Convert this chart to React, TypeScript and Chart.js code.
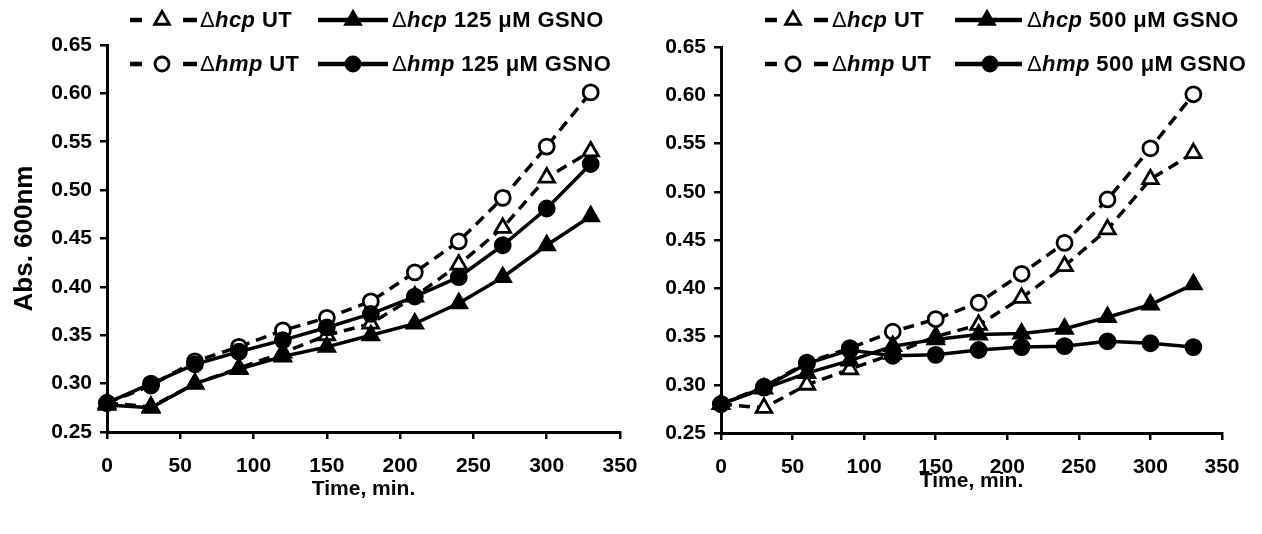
import React, { useEffect, useRef } from 'react';
import { Chart, registerables } from 'chart.js';

Chart.register(...registerables);

// ---------- data ----------
const times = [0, 30, 60, 90, 120, 150, 180, 210, 240, 270, 300, 330];
const hcpUT = [0.280, 0.276, 0.300, 0.316, 0.332, 0.350, 0.362, 0.390, 0.423, 0.461, 0.513, 0.540];
const hmpUT = [0.280, 0.298, 0.323, 0.338, 0.355, 0.368, 0.385, 0.415, 0.447, 0.492, 0.545, 0.601];
const hcp125 = [0.278, 0.275, 0.300, 0.315, 0.328, 0.338, 0.350, 0.362, 0.383, 0.410, 0.443, 0.473];
const hmp125 = [0.280, 0.300, 0.320, 0.333, 0.345, 0.358, 0.372, 0.390, 0.410, 0.443, 0.481, 0.527];
const hcp500 = [0.280, 0.296, 0.312, 0.325, 0.340, 0.347, 0.352, 0.353, 0.358, 0.370, 0.383, 0.404];
const hmp500 = [0.280, 0.297, 0.322, 0.336, 0.330, 0.331, 0.336, 0.339, 0.340, 0.345, 0.343, 0.339];

const xTickValues = [0, 50, 100, 150, 200, 250, 300, 350];
const yTickValues = [0.25, 0.3, 0.35, 0.4, 0.45, 0.5, 0.55, 0.6, 0.65];

const xTitle = 'Time, min.';
const yTitle = 'Abs. 600nm';

const FONT = "'Liberation Sans', Arial, Helvetica, sans-serif";

type Kind = 'tri-open' | 'tri-fill' | 'circ-open' | 'circ-fill';

function ds(label: string, values: number[], kind: Kind) {
  const isTri = kind.startsWith('tri');
  const open = kind.endsWith('open');
  return {
    label,
    data: times.map((t, i) => ({ x: t, y: values[i] })),
    borderColor: '#000',
    borderWidth: 3.5,
    borderDash: open ? [11, 7] : [],
    pointStyle: isTri ? 'triangle' : 'circle',
    pointRadius: isTri ? 9 : 7.5,
    pointBorderWidth: 2.8,
    pointBackgroundColor: open ? '#fff' : '#000',
    pointBorderColor: '#000',
    fill: false,
    tension: 0,
    clip: false as any,
  };
}

function makeConfig(p: {
  datasets: any[];
  yWidth: number;
  xHeight: number;
  padTop: number;
  padRight: number;
  xTitlePad: number;
  showYTitle: boolean;
}) {
  const tickFont = { family: FONT, size: 21, weight: 'bold' as const };
  const gridCommon = {
    display: true,
    drawOnChartArea: false,
    drawTicks: true,
    tickLength: 7,
    tickWidth: 2.5,
    tickColor: '#000',
    color: '#000',
    lineWidth: 2.5,
  };
  return {
    type: 'line' as const,
    data: { datasets: p.datasets },
    options: {
      animation: false as const,
      responsive: false,
      layout: { padding: { top: p.padTop, right: p.padRight, left: 0, bottom: 0 } },
      plugins: { legend: { display: false }, tooltip: { enabled: false } },
      events: [],
      scales: {
        x: {
          type: 'linear' as const,
          min: 0,
          max: 350,
          afterBuildTicks: (s: any) => {
            s.ticks = xTickValues.map((v) => ({ value: v }));
          },
          afterFit: (s: any) => {
            s.height = p.xHeight;
          },
          ticks: { color: '#000', font: tickFont, padding: 15, maxRotation: 0, autoSkip: false },
          grid: gridCommon,
          border: { display: true, color: '#000', width: 3 },
          title: {
            display: true,
            text: xTitle,
            color: '#000',
            font: { family: FONT, size: 21, weight: 'bold' as const },
            padding: { top: 0, bottom: p.xTitlePad },
          },
        },
        y: {
          type: 'linear' as const,
          min: 0.25,
          max: 0.65,
          afterBuildTicks: (s: any) => {
            s.ticks = yTickValues.map((v) => ({ value: v }));
          },
          afterFit: (s: any) => {
            s.width = p.yWidth;
          },
          ticks: {
            color: '#000',
            font: tickFont,
            padding: 8,
            autoSkip: false,
            callback: (v: any) => Number(v).toFixed(2),
          },
          grid: gridCommon,
          border: { display: true, color: '#000', width: 3 },
          title: {
            display: p.showYTitle,
            text: yTitle,
            color: '#000',
            font: { family: FONT, size: 26, weight: 'bold' as const },
            padding: { top: 9, bottom: 0 },
          },
        },
      },
    },
  };
}

function ChartCanvas({ config, left, width }: { config: any; left: number; width: number }) {
  const ref = useRef<HTMLCanvasElement | null>(null);
  useEffect(() => {
    if (!ref.current) return;
    const c = new Chart(ref.current, config);
    return () => c.destroy();
  }, [config]);
  return (
    <canvas
      ref={ref}
      width={width}
      height={534}
      style={{ position: 'absolute', left, top: 0, width, height: 534, display: 'block' }}
    />
  );
}

function Marker({ kind, cx, cy }: { kind: Kind; cx: number; cy: number }) {
  const fill = kind.endsWith('open') ? '#fff' : '#000';
  if (kind.startsWith('tri')) {
    const r = 8.5;
    const pts = [
      [cx, cy - r],
      [cx + r * 0.866, cy + r * 0.5],
      [cx - r * 0.866, cy + r * 0.5],
    ]
      .map((q) => q.join(','))
      .join(' ');
    return <polygon points={pts} fill={fill} stroke="#000" strokeWidth={2.8} strokeLinejoin="miter" />;
  }
  return <circle cx={cx} cy={cy} r={7} fill={fill} stroke="#000" strokeWidth={2.8} />;
}

function LegendItem({
  x,
  y,
  sampleW,
  markerAt,
  kind,
  name,
  rest,
  gap,
}: {
  x: number;
  y: number;
  sampleW: number;
  markerAt: number;
  kind: Kind;
  name: string;
  rest: string;
  gap: number;
}) {
  const dashed = kind.endsWith('open');
  return (
    <div
      style={{
        position: 'absolute',
        left: x,
        top: y - 14,
        height: 28,
        display: 'flex',
        alignItems: 'center',
        whiteSpace: 'nowrap',
        fontFamily: FONT,
        fontSize: 22,
        letterSpacing: '0.4px',
        fontWeight: 'bold',
        color: '#000',
      }}
    >
      <svg width={sampleW} height={28} style={{ display: 'block', flex: 'none' }}>
        {dashed ? (
          <>
            <line x1={0} y1={14} x2={12} y2={14} stroke="#000" strokeWidth={4.5} />
            <line x1={sampleW - 14} y1={14} x2={sampleW} y2={14} stroke="#000" strokeWidth={4.5} />
          </>
        ) : (
          <line x1={0} y1={14} x2={sampleW} y2={14} stroke="#000" strokeWidth={4.5} />
        )}
        <Marker kind={kind} cx={markerAt} cy={14} />
      </svg>
      <span style={{ marginLeft: gap }}>
        <span style={{ fontWeight: 'normal' }}>Δ</span>
        <i>{name}</i>
        {rest}
      </span>
    </div>
  );
}

const leftConfig = makeConfig({
  datasets: [
    ds('Δhmp 125 μM GSNO', hmp125, 'circ-fill'),
    ds('Δhcp 125 μM GSNO', hcp125, 'tri-fill'),
    ds('Δhmp UT', hmpUT, 'circ-open'),
    ds('Δhcp UT', hcpUT, 'tri-open'),
  ],
  yWidth: 107,
  xHeight: 102,
  padTop: 45,
  padRight: 40,
  xTitlePad: 32,
  showYTitle: true,
});

const rightConfig = makeConfig({
  datasets: [
    ds('Δhmp 500 μM GSNO', hmp500, 'circ-fill'),
    ds('Δhcp 500 μM GSNO', hcp500, 'tri-fill'),
    ds('Δhmp UT', hmpUT, 'circ-open'),
    ds('Δhcp UT', hcpUT, 'tri-open'),
  ],
  yWidth: 81,
  xHeight: 101,
  padTop: 47,
  padRight: 40,
  xTitlePad: 40,
  showYTitle: false,
});

export default function App() {
  return (
    <div
      style={{
        position: 'absolute',
        left: 0,
        top: 0,
        width: 1262,
        height: 534,
        background: '#fff',
        overflow: 'hidden',
      }}
    >
      <ChartCanvas config={leftConfig} left={0} width={660} />
      <ChartCanvas config={rightConfig} left={640} width={622} />

      <LegendItem x={130} y={20} sampleW={67} markerAt={32} kind="tri-open" name="hcp" rest=" UT" gap={3} />
      <LegendItem x={130} y={64} sampleW={67} markerAt={32} kind="circ-open" name="hmp" rest=" UT" gap={3} />
      <LegendItem x={318} y={20} sampleW={70} markerAt={35} kind="tri-fill" name="hcp" rest=" 125 μM GSNO" gap={4} />
      <LegendItem x={318} y={64} sampleW={70} markerAt={35} kind="circ-fill" name="hmp" rest=" 125 μM GSNO" gap={4} />

      <LegendItem x={765} y={20} sampleW={63} markerAt={28} kind="tri-open" name="hcp" rest=" UT" gap={4} />
      <LegendItem x={765} y={64} sampleW={63} markerAt={28} kind="circ-open" name="hmp" rest=" UT" gap={4} />
      <LegendItem x={955} y={20} sampleW={67} markerAt={32} kind="tri-fill" name="hcp" rest=" 500 μM GSNO" gap={5} />
      <LegendItem x={955} y={64} sampleW={67} markerAt={35} kind="circ-fill" name="hmp" rest=" 500 μM GSNO" gap={5} />
    </div>
  );
}
